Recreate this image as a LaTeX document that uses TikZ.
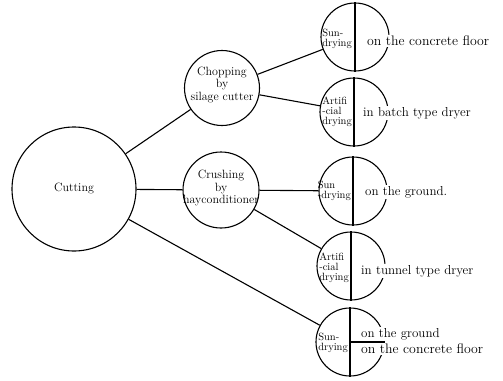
\documentclass[tikz,border=0pt]{standalone}
\usetikzlibrary{positioning}

\begin{document}
\begin{tikzpicture}[x=1pt,y=-1pt,
    ring/.style={circle,draw,line width=1.1pt,inner sep=0pt,minimum size=#1},
    half/.style={font=\fontsize{10.5}{10}\selectfont,align=left,inner sep=0pt},
    note/.style={font=\fontsize{13}{13}\selectfont,fill=white,inner sep=1pt},
    link/.style={line width=1.1pt}]
    \useasboundingbox (0,0) rectangle (503,380);
    % main steps
    \node[ring=124pt,font=\fontsize{12}{12}\selectfont] (cut) at (74,189) {Cutting};
    \node[ring=75pt,label={[align=center,font=\fontsize{12}{12.5}\selectfont,yshift=3pt]center:Chopping\\by\\silage cutter}] (chop) at (222,88) {};
    \node[ring=76pt,label={[align=center,font=\fontsize{12}{12.5}\selectfont,yshift=2pt]center:Crushing\\by\\hayconditioner}] (crush) at (221,190) {};
    % drying circles
    \node[ring=68pt] (d1) at (355,37) {};
    \node[ring=68pt] (d2) at (354,112) {};
    \node[ring=68pt] (d3) at (353,191) {};
    \node[ring=68pt] (d4) at (351,266) {};
    \node[ring=68pt] (d5) at (350,342) {};
    \foreach \d in {d1,d2,d3,d4,d5}
        \draw[link] (\d.north) -- (\d.south);
    \draw[link] (d5.center) -- (d5.east);
    % texts in the circles
    \node[half,left=3pt of d1.center,yshift=-2pt] (s1) {Sun-\\drying};
    \node[half,left=2pt of d2.center] (s2) {Artifi\\-cial\\drying};
    \node[half,left=2pt of d3.center] (s3) {Sun\\-drying};
    \node[half,left=2pt of d4.center,yshift=-2pt] (s4) {Artifi\\-cial\\drying};
    \node[half,left=2pt of d5.center,yshift=-1pt] (s5) {Sun-\\drying};
    \node[note,font=\fontsize{13.8}{14}\selectfont,right=11pt of d1.center,yshift=-4pt] (n1) {on the concrete floor};
    \node[note,right=8pt of d2.center,yshift=-1pt] (n2) {in batch type dryer};
    \node[note,right=11pt of d3.center,yshift=-1pt] (n3) {on the ground.};
    \node[note,right=9pt of d4.center,yshift=-5pt] (n4) {in tunnel type dryer};
    \node[note,above right=1pt and 10pt of d5.center] (n5) {on the ground};
    \node[note,font=\fontsize{13.8}{14}\selectfont,below right=1pt and 10pt of d5.center] (n6) {on the concrete floor};
    % connectors
    \draw[link] (cut) -- (chop);
    \draw[link] (cut) -- (crush);
    \draw[link] (cut) -- (d5);
    \draw[link] (chop) -- (d1);
    \draw[link] (chop) -- (d2);
    \draw[link] (crush) -- (d3);
    \draw[link] (crush) -- (d4);
\end{tikzpicture}
\end{document}
